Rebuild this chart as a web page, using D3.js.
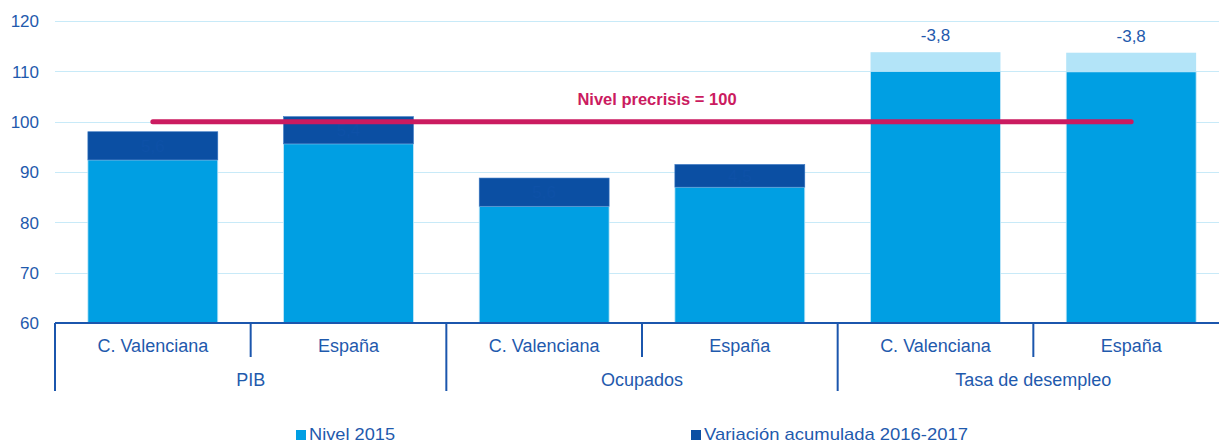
<!DOCTYPE html>
<head>
  <meta charset="utf-8">
  <style>
    body { margin: 0; background: #fff; }
    svg { display: block; font-family: "Liberation Sans", Arial, sans-serif; }
    .grid line { stroke: #c8eaf8; stroke-width: 1px; shape-rendering: crispEdges; }
    .grid path { display: none; }
    .y.axis path, .y.axis line { display: none; }
    .y.axis text { fill: #1f5aad; font-size: 17px; }
    .cat { fill: #1f5aad; font-size: 18px; }
    .sep { stroke: #1b56ad; stroke-width: 2px; }
  </style>
  <script src="https://cdn.jsdelivr.net/npm/d3@7"></script>
</head>
<body>
  <script>
    // data
    var groups = ["PIB", "Ocupados", "Tasa de desempleo"];
    var regions = ["C. Valenciana", "España", "C. Valenciana", "España", "C. Valenciana", "España"];
    var groupOf = [0, 0, 1, 1, 2, 2];
    var nivel2015 = [92.4, 95.6, 83.2, 87.0, 110.0, 109.9];
    var variacion = [5.6, 5.4, 5.6, 4.5, -3.8, -3.8];
    var varLabels = ["5,6", "5,4", "5,6", "4,5", "-3,8", "-3,8"];
    var yTicks = [60, 70, 80, 90, 100, 110, 120];
    var precrisis = 100;
    var legendNames = ["Nivel 2015", "Variación acumulada 2016-2017"];

    var width = 1219, height = 445;
    var margin = { top: 21, left: 55, right: -10, bottom: 122 };
    var plotRight = width - margin.right;
    var plotBottom = height - margin.bottom;

    var cNivel = "#009fe3", cVar = "#0b4fa3", cNeg = "#b3e4f8", cRed = "#cb1b60", cText = "#1f5aad";

    var svg = d3.select("body").append("svg")
      .attr("width", width)
      .attr("height", height);

    var idx = d3.range(regions.length);
    var x = d3.scaleBand().domain(idx).range([margin.left, plotRight])
      .paddingInner(0.336).paddingOuter(0.168);
    var y = d3.scaleLinear().domain([60, 120]).range([plotBottom, margin.top]);
    var step = x.step();
    var pad = step * x.paddingInner() / 2;

    // gridlines
    svg.append("g")
      .attr("class", "grid")
      .attr("transform", "translate(" + margin.left + ",0)")
      .call(d3.axisRight(y).tickValues(yTicks.slice(1)).tickSize(plotRight - margin.left).tickFormat(""));

    // y axis labels
    svg.append("g")
      .attr("class", "y axis")
      .attr("transform", "translate(39,0)")
      .call(d3.axisLeft(y).tickValues(yTicks).tickSize(0).tickPadding(0))
      .selectAll("text").attr("dy", "0.35em");

    // base bars
    var bar = svg.append("g").selectAll("g").data(idx).enter().append("g");

    bar.append("rect")
      .attr("x", function(i) { return x(i); })
      .attr("width", x.bandwidth())
      .attr("y", function(i) { return y(nivel2015[i]); })
      .attr("height", function(i) { return y(60) - y(nivel2015[i]); })
      .attr("fill", cNivel)
      .attr("stroke", "#c4e8f8").attr("stroke-width", 0.8);

    bar.append("rect")
      .attr("x", function(i) { return x(i); })
      .attr("width", x.bandwidth())
      .attr("y", function(i) { return y(nivel2015[i] + Math.abs(variacion[i])); })
      .attr("height", function(i) { return y(nivel2015[i]) - y(nivel2015[i] + Math.abs(variacion[i])); })
      .attr("fill", function(i) { return variacion[i] < 0 ? cNeg : cVar; })
      .attr("stroke", function(i) { return variacion[i] < 0 ? "none" : "#3b78c4"; })
      .attr("stroke-width", 0.6);

    // value labels (the positive ones are almost invisible on the dark blue)
    bar.append("text")
      .attr("x", function(i) { return x(i) + x.bandwidth() / 2; })
      .attr("y", function(i) {
        var top = y(nivel2015[i] + Math.abs(variacion[i]));
        if (variacion[i] < 0) return top - 11;
        return (top + y(nivel2015[i])) / 2 + 6;
      })
      .attr("text-anchor", "middle")
      .attr("font-size", "17px")
      .attr("fill", function(i) { return variacion[i] < 0 ? cText : "#0e51a7"; })
      .text(function(i) { return varLabels[i]; });

    // precrisis line
    var first = idx[0], last = idx[idx.length - 1];
    svg.append("line")
      .attr("x1", x(first) + x.bandwidth() / 2)
      .attr("x2", x(last) + x.bandwidth() / 2)
      .attr("y1", y(precrisis)).attr("y2", y(precrisis))
      .attr("stroke", cRed).attr("stroke-width", 5)
      .attr("stroke-linecap", "round");

    svg.append("text")
      .attr("x", 657)
      .attr("y", y(precrisis) - 17)
      .attr("text-anchor", "middle")
      .attr("font-size", "16.5px")
      .attr("font-weight", "bold")
      .attr("fill", cRed)
      .text("Nivel precrisis = " + precrisis);

    // x axis (two levels)
    svg.append("line")
      .attr("class", "sep")
      .attr("x1", margin.left).attr("x2", plotRight)
      .attr("y1", plotBottom).attr("y2", plotBottom);

    idx.forEach(function(i) {
      var left = x(i) - pad;
      var isGroupStart = i === 0 || groupOf[i] !== groupOf[i - 1];
      svg.append("line").attr("class", "sep")
        .attr("x1", left).attr("x2", left)
        .attr("y1", plotBottom).attr("y2", isGroupStart ? plotBottom + 68 : plotBottom + 34);
      svg.append("text").attr("class", "cat")
        .attr("x", x(i) + x.bandwidth() / 2)
        .attr("y", plotBottom + 29)
        .attr("text-anchor", "middle")
        .text(regions[i]);
    });
    svg.append("line").attr("class", "sep")
      .attr("x1", plotRight).attr("x2", plotRight)
      .attr("y1", plotBottom).attr("y2", plotBottom + 68);

    groups.forEach(function(g, gi) {
      var members = idx.filter(function(i) { return groupOf[i] === gi; });
      var cx = d3.mean(members, function(i) { return x(i) + x.bandwidth() / 2; });
      svg.append("text").attr("class", "cat")
        .attr("x", cx)
        .attr("y", plotBottom + 63)
        .attr("text-anchor", "middle")
        .text(g);
    });

    // legend
    var legendX = [296, 691];
    var legendW = [86, 264];
    var legendC = [cNivel, cVar];
    legendNames.forEach(function(name, k) {
      svg.append("rect")
        .attr("x", legendX[k]).attr("y", 430)
        .attr("width", 10).attr("height", 10)
        .attr("fill", legendC[k]);
      svg.append("text")
        .attr("x", legendX[k] + 13).attr("y", 440)
        .attr("font-size", "17px")
        .attr("fill", cText)
        .attr("textLength", legendW[k])
        .attr("lengthAdjust", "spacingAndGlyphs")
        .text(name);
    });
  </script>
</body>
</html>
